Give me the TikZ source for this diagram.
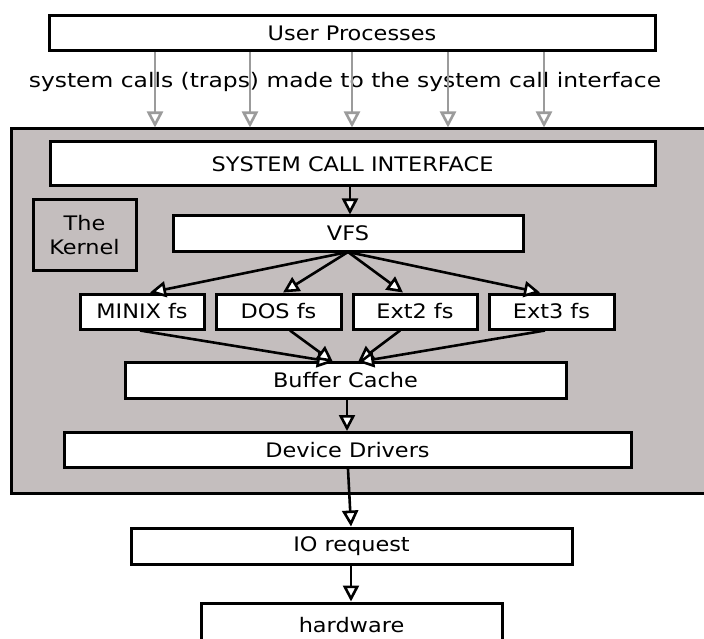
\documentclass[tikz,border=0pt]{standalone}
\usepackage{fontspec}
\setmainfont{DejaVu Sans}
\newfontfamily\boxfont[FakeStretch=1.12]{DejaVu Sans}
\newfontfamily\callfont[FakeStretch=1.17]{DejaVu Sans}
\usetikzlibrary{arrows.meta}
\definecolor{kerngray}{RGB}{196,190,190}
\definecolor{callgray}{RGB}{155,155,155}
\tikzset{
  box/.style={draw=black, fill=white, line width=3pt, inner sep=0pt, font=\boxfont\fontsize{20}{24}\selectfont},
  opentip/.style={-{Triangle[length=16pt, width=16pt, fill=white, line width=2.6pt]}},
  flow/.style={draw=black, line width=2.6pt, opentip},
  call/.style={draw=callgray, line width=2.6pt, opentip},
}
\begin{document}
\begin{tikzpicture}[x=1pt,y=-1pt]
\useasboundingbox (0,0) rectangle (704,639);
\begin{scope}
\clip (0,0) rectangle (704,639);
% kernel region
\node[draw=black, fill=kerngray, line width=3pt, minimum width=720pt, minimum height=364pt, inner sep=0pt] (kernel) at (371,311) {};
\node[box, minimum width=606pt, minimum height=35pt] (up) at (352,33.5) {User Processes};
\node[font=\callfont\fontsize{20}{24}\selectfont, inner sep=0pt] (calls) at (345,82) {system calls (traps) made to the system call interface};
\node[box, minimum width=605pt, minimum height=44pt] (sci) at (352.5,164) {SYSTEM CALL INTERFACE};
\node[box, fill=kerngray, minimum width=103pt, minimum height=70pt, align=center] (thek) at (84.5,235) {The\\Kernel};
\node[box, minimum width=350pt, minimum height=35pt] (vfs) at (348,233.5) {VFS};
\node[box, minimum width=124pt, minimum height=35pt] (minix) at (142,311.5) {MINIX fs};
\node[box, minimum width=125pt, minimum height=35pt] (dos) at (278.5,311.5) {DOS fs};
\node[box, minimum width=124pt, minimum height=35pt] (ext2) at (415,311.5) {Ext2 fs};
\node[box, minimum width=125pt, minimum height=35pt] (ext3) at (551.5,311.5) {Ext3 fs};
\node[box, minimum width=441pt, minimum height=36pt] (buf) at (345.5,380.5) {Buffer Cache};
\node[box, minimum width=567pt, minimum height=35pt] (dd) at (347.5,450) {Device Drivers};
\node[box, minimum width=441pt, minimum height=36pt] (io) at (351.5,546) {IO request};
\node[box, minimum width=301pt, minimum height=44pt] (hw) at (351.5,625) {hardware};
% calls
\foreach \x in {155,250,352,448,544}{
  \draw[call] (up.south -| \x,0) -- (kernel.north -| \x,0);
}
% flows
\draw[flow] (sci.south -| 350,0) -- (vfs.north -| 350,0);
\coordinate (vfsout) at (348,252);
\draw[flow] (vfsout) -- (minix.north -| 150,0);
\draw[flow] (vfsout) -- (dos.north -| 283,0);
\draw[flow] (vfsout) -- (ext2.north -| 403,0);
\draw[flow] (vfsout) -- (ext3.north -| 540,0);
\coordinate (bufin1) at (333,362);
\coordinate (bufin2) at (358,362);
\draw[flow] (minix.south -| 140,0) -- (bufin1);
\draw[flow] (dos.south -| 290,0) -- (bufin1);
\draw[flow] (ext2.south -| 400,0) -- (bufin2);
\draw[flow] (ext3.south -| 545,0) -- (bufin2);
\draw[flow] (buf.south -| 347,0) -- (dd.north -| 347,0);
\draw[flow] (dd.south -| 348,0) -- (io.north -| 351,0);
\draw[flow] (io.south -| 351,0) -- (hw.north -| 351,0);
\end{scope}
\end{tikzpicture}
\end{document}
